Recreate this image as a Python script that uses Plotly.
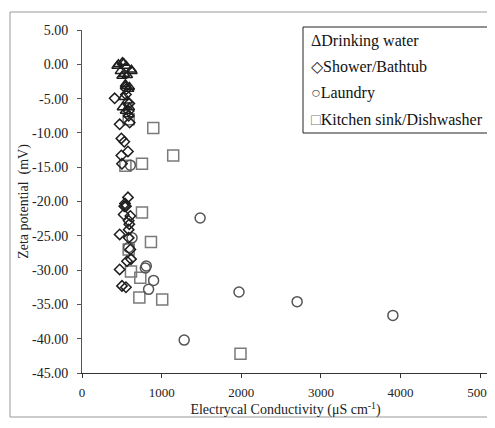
import plotly.graph_objects as go

# ---- data ----
drink_ec = [440, 457, 507, 523, 557, 620, 628, 482, 532, 502, 570, 545, 595, 545, 586, 520, 570, 507, 595, 545, 586]
drink_zp = [-0.25, 0.0, 0.3, 0.2, -0.25, -0.8, -1.0, -1.0, -1.4, -1.7, -1.6, -2.9, -3.3, -3.2, -3.6, -4.8, -5.3, -6.3, -6.3, -6.8, -7.3]

shower_ec = [410, 594, 473, 494, 531, 494, 577, 502, 577, 552, 586, 586, 598, 557,
             552, 531, 523, 607, 586, 594, 586, 473, 586, 607, 565, 615, 473, 502, 552, 540]
shower_zp = [-4.96, -5.7, -8.75, -10.8, -11.3, -13.3, -12.7, -14.5, -19.4, -4.4, -6.8, -7.5, -8.5, -3.6,
             -20.7, -20.7, -21.9, -22.1, -22.8, -23.3, -24.1, -24.8, -25.3, -27.0, -28.7, -28.4, -29.9, -32.3, -32.5, -20.3]

laundry_ec = [607, 628, 586, 807, 795, 899, 836, 1483, 1971, 2701, 1283, 3903]
laundry_zp = [-14.7, -25.3, -26.7, -29.4, -29.7, -31.5, -32.8, -22.4, -33.2, -34.6, -40.2, -36.6]

kitchen_ec = [586, 895, 1145, 753, 545, 753, 866, 586, 615, 732, 720, 1007, 1990]
kitchen_zp = [-8.0, -9.3, -13.3, -14.5, -14.8, -21.6, -25.9, -27.0, -30.2, -31.1, -34.0, -34.3, -42.2]

series_names = ["Drinking water", "Shower/Bathtub", "Laundry", "Kitchen sink/Dishwasher"]
legend_glyphs = ["Δ", "◇", "○", "□"]
y_ticks = [5, 0, -5, -10, -15, -20, -25, -30, -35, -40, -45]
y_tick_labels = [f"{v:.2f}" for v in y_ticks]
x_ticks = [0, 1000, 2000, 3000, 4000, 5000]

# ---- figure ----
W, H = 495, 428
OFF = 8  # page body margin offset
# target plot area in screen pixels: x 82..489, y 30..373
L, T = 82 - OFF, 30 - OFF
R = W - (489 - OFF)
B = H - (373 - OFF)
pw, ph = W - L - R, H - T - B

def px_x(p):
    return (p - OFF - L) / pw

def px_y(p):
    return (H - B - (p - OFF)) / ph

FONT = "Liberation Serif, Times New Roman, serif"

styles = [
    dict(symbol="triangle-up-open", color="#1e1e1e", size=9),
    dict(symbol="diamond-open", color="#1e1e1e", size=8),
    dict(symbol="circle-open", color="#555555", size=10),
    dict(symbol="square-open", color="#7a7a7a", size=11),
]
data = [(drink_ec, drink_zp), (shower_ec, shower_zp), (laundry_ec, laundry_zp), (kitchen_ec, kitchen_zp)]

fig = go.Figure()
for i in [3, 2, 1, 0]:
    xs, ys = data[i]
    st = styles[i]
    fig.add_trace(go.Scatter(
        x=xs, y=ys, mode="markers", name=series_names[i], showlegend=False,
        marker=dict(symbol=st["symbol"], size=st["size"], color=st["color"],
                    line=dict(width=1.5, color=st["color"])),
    ))

annotations = []
for i, (g, name) in enumerate(zip(legend_glyphs, series_names)):
    annotations.append(dict(
        xref="paper", yref="paper", x=px_x(309), y=px_y(41 + 26 * i),
        xanchor="left", yanchor="middle", showarrow=False,
        text=f"<span style='color:{styles[i]['color']}'>{g}</span>{name}",
        font=dict(family=FONT, size=16, color="#111111"),
    ))

fig.update_layout(
    width=W, height=H,
    margin=dict(l=L, r=R, t=T, b=B),
    paper_bgcolor="white", plot_bgcolor="white",
    font=dict(family=FONT, size=14, color="#222222"),
    showlegend=False,
    annotations=annotations,
    xaxis=dict(
        range=[0, 5110], tickvals=x_ticks, showgrid=False, zeroline=False, automargin=False,
        showline=True, linecolor="#333333", linewidth=1,
        ticks="outside", ticklen=4, tickcolor="#333333", ticklabelstandoff=3,
        title=dict(text="Electrycal Conductivity (μS cm<sup>-1</sup>)", standoff=4,
                   font=dict(family=FONT, size=14)),
        tickfont=dict(family=FONT, size=13),
    ),
    yaxis=dict(
        range=[-45, 5], tickvals=y_ticks, ticktext=y_tick_labels, showgrid=False, zeroline=False,
        automargin=False,
        showline=True, linecolor="#555555", linewidth=1,
        ticks="outside", ticklen=4, tickcolor="#555555", ticklabelstandoff=6,
        title=dict(text="Zeta potential  (mV)", standoff=0,
                   font=dict(family=FONT, size=14)),
        tickfont=dict(family=FONT, size=14),
    ),
    shapes=[
        dict(type="rect", xref="paper", yref="paper",
             x0=px_x(10), x1=px_x(503), y0=px_y(417), y1=px_y(12),
             line=dict(color="#999999", width=1), fillcolor="rgba(0,0,0,0)", layer="below"),
        dict(type="rect", xref="paper", yref="paper",
             x0=px_x(303), x1=px_x(503), y0=px_y(133), y1=px_y(27),
             line=dict(color="#222222", width=1), fillcolor="white", layer="above"),
    ],
)

fig.write_html("out.html")
